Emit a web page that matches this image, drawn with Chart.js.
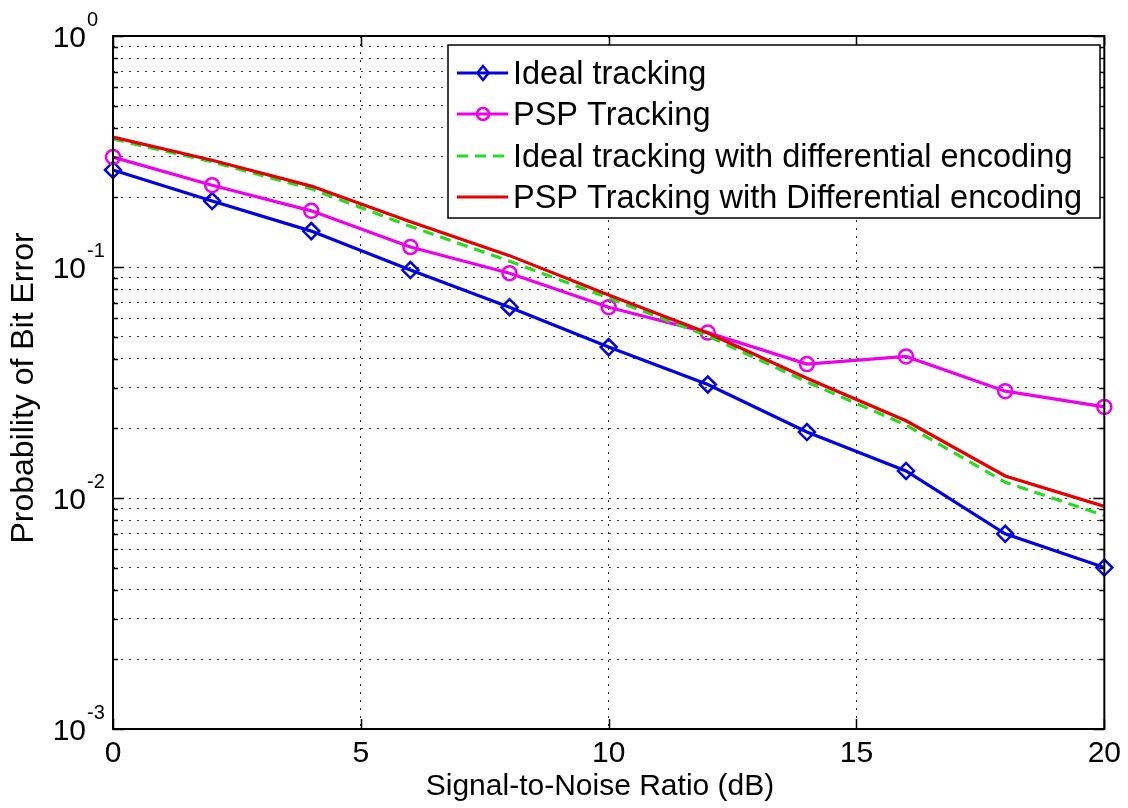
<!DOCTYPE html>
<html>
<head>
<meta charset="utf-8">
<script src="https://cdn.jsdelivr.net/npm/chart.js@4.4.1/dist/chart.umd.min.js"></script>
<style>
  html, body { margin: 0; padding: 0; background: #ffffff; }
  #wrap { width: 1128px; height: 808px; }
</style>
</head>
<body>
<div id="wrap"><canvas id="c" width="1128" height="808"></canvas></div>
<script>
// ---- data ----
const snrDb = [0, 2, 4, 6, 8, 10, 12, 14, 16, 18, 20];
const idealTracking = [0.263, 0.193, 0.143, 0.097, 0.067, 0.045, 0.031, 0.0193, 0.0131, 0.0070, 0.0050];
const pspTracking = [0.299, 0.226, 0.175, 0.122, 0.094, 0.067, 0.052, 0.038, 0.041, 0.029, 0.0248];
const idealTrackingDiff = [0.358, 0.285, 0.218, 0.150, 0.106, 0.0734, 0.0503, 0.0318, 0.0207, 0.0117, 0.0084];
const pspTrackingDiff = [0.365, 0.290, 0.224, 0.157, 0.112, 0.0757, 0.0518, 0.0330, 0.0216, 0.01245, 0.0092];
const seriesNames = [
  'Ideal tracking',
  'PSP Tracking',
  'Ideal tracking with differential encoding',
  'PSP Tracking with Differential encoding'
];
const xTickValues = [0, 5, 10, 15, 20];
const yDecades = [1, 0.1, 0.01, 0.001];
const yDecadeExponents = ['0', '-1', '-2', '-3'];
const yMinorMultipliers = [2, 3, 4, 5, 6, 7, 8, 9];
const xTitle = 'Signal-to-Noise Ratio (dB)';
const yTitle = 'Probability of Bit Error';

const FONT = '"Liberation Sans", Arial, Helvetica, sans-serif';
const colors = ['#0000e6', '#ee00ee', '#22dd22', '#e60000'];

function toPoints(ys) { return snrDb.map((x, i) => ({ x: x, y: ys[i] })); }

// ticks on the log axis: decades plus 2..9 multiples
function buildYTicks() {
  const t = [];
  yDecades.forEach(d => {
    t.push({ value: d, major: true });
    if (d < 1) yMinorMultipliers.forEach(m => t.push({ value: d * m, major: false }));
  });
  return t.sort((a, b) => a.value - b.value);
}

const matlabPlugin = {
  id: 'matlabLook',
  afterDatasetsDraw(chart) {
    const ctx = chart.ctx;
    const a = chart.chartArea;
    const xs = chart.scales.x, ys = chart.scales.y;
    ctx.save();
    // tick marks (inside)
    ctx.strokeStyle = '#000';
    ctx.lineWidth = 1.5;
    ctx.setLineDash([]);
    ctx.beginPath();
    xTickValues.forEach(v => {
      const px = Math.round(xs.getPixelForValue(v)) + 0.5;
      ctx.moveTo(px, a.bottom); ctx.lineTo(px, a.bottom - 10);
      ctx.moveTo(px, a.top); ctx.lineTo(px, a.top + 10);
    });
    ys.ticks.forEach(t => {
      const py = Math.round(ys.getPixelForValue(t.value)) + 0.5;
      const len = t.major ? 11 : 5;
      ctx.moveTo(a.left, py); ctx.lineTo(a.left + len, py);
      ctx.moveTo(a.right, py); ctx.lineTo(a.right - len, py);
    });
    ctx.stroke();
    // box
    ctx.lineWidth = 2;
    ctx.strokeRect(a.left, a.top, a.right - a.left, a.bottom - a.top);

    // y decade labels with superscript exponents
    ctx.fillStyle = '#000';
    yDecades.forEach((d, i) => {
      const py = ys.getPixelForValue(d);
      ctx.font = '30px ' + FONT;
      ctx.textAlign = 'right';
      ctx.textBaseline = 'alphabetic';
      ctx.fillText('10', 86, py + 11);
      ctx.font = '20px ' + FONT;
      ctx.textAlign = 'left';
      ctx.fillText(yDecadeExponents[i], 87, py - 10);
    });

    // axis titles
    ctx.font = '30px ' + FONT;
    ctx.textAlign = 'center';
    ctx.textBaseline = 'alphabetic';
    ctx.fillText(xTitle, 600, 795);
    ctx.save();
    ctx.translate(24, 388);
    ctx.rotate(-Math.PI / 2);
    ctx.font = '32px ' + FONT;
    ctx.textBaseline = 'middle';
    ctx.fillText(yTitle, 0, 0);
    ctx.restore();

    // legend
    const lx = 448, ly = 45, lw = 652, lh = 173;
    ctx.fillStyle = '#fff';
    ctx.fillRect(lx, ly, lw, lh);
    ctx.strokeStyle = '#000';
    ctx.lineWidth = 1.5;
    ctx.strokeRect(lx, ly, lw, lh);
    const rowY = [73, 114, 156, 197];
    chart.data.datasets.forEach((ds, i) => {
      const y = rowY[i];
      ctx.save();
      ctx.strokeStyle = ds.borderColor;
      ctx.lineWidth = ds.borderWidth;
      ctx.setLineDash(ds.borderDash || []);
      ctx.beginPath();
      ctx.moveTo(457, y); ctx.lineTo(508, y);
      ctx.stroke();
      ctx.setLineDash([]);
      if (ds.pointRadius > 0) {
        ctx.lineWidth = ds.pointBorderWidth;
        ctx.beginPath();
        const cx = 483, r = ds.pointRadius - 1;
        if (ds.pointStyle === 'rectRot') {
          ctx.moveTo(cx, y - r); ctx.lineTo(cx + r * 0.8, y); ctx.lineTo(cx, y + r); ctx.lineTo(cx - r * 0.8, y); ctx.closePath();
        } else {
          ctx.arc(cx, y, r, 0, Math.PI * 2);
        }
        ctx.stroke();
      }
      ctx.restore();
      ctx.fillStyle = '#000';
      ctx.font = '32.5px ' + FONT;
      ctx.textAlign = 'left';
      ctx.textBaseline = 'alphabetic';
      ctx.fillText(ds.label, 513, y + 11);
    });
    ctx.restore();
  }
};

const baseDs = { borderWidth: 3.2, tension: 0, clip: false, fill: false, pointBackgroundColor: 'rgba(0,0,0,0)', pointBorderWidth: 2.5, pointHoverRadius: 0 };

new Chart(document.getElementById('c'), {
  type: 'line',
  data: {
    datasets: [
      Object.assign({}, baseDs, { label: seriesNames[0], data: toPoints(idealTracking), borderColor: colors[0], pointBorderColor: colors[0], pointStyle: 'rectRot', pointRadius: 8, order: 4 }),
      Object.assign({}, baseDs, { label: seriesNames[1], data: toPoints(pspTracking), borderColor: colors[1], pointBorderColor: colors[1], pointStyle: 'circle', pointRadius: 7, order: 3 }),
      Object.assign({}, baseDs, { label: seriesNames[2], data: toPoints(idealTrackingDiff), borderColor: colors[2], borderDash: [11, 7], pointRadius: 0, order: 2 }),
      Object.assign({}, baseDs, { label: seriesNames[3], data: toPoints(pspTrackingDiff), borderColor: colors[3], pointRadius: 0, order: 1 })
    ]
  },
  options: {
    responsive: false,
    animation: false,
    devicePixelRatio: 1,
    layout: { padding: { left: 0, top: 36, right: 21, bottom: 0 } },
    plugins: { legend: { display: false }, tooltip: { enabled: false } },
    events: [],
    scales: {
      x: {
        type: 'linear',
        min: 0, max: 20,
        afterFit: s => { s.height = 79; },
        afterBuildTicks: s => { s.ticks = xTickValues.map(v => ({ value: v })); },
        ticks: { font: { family: FONT, size: 30 }, color: '#000', padding: 7, maxRotation: 0, autoSkip: false },
        grid: { color: '#333', lineWidth: 1, drawTicks: false },
        border: { display: false, dash: [2, 6] },
        title: { display: false, text: xTitle }
      },
      y: {
        type: 'logarithmic',
        min: 0.001, max: 1,
        afterFit: s => { s.width = 113; },
        afterBuildTicks: s => { s.ticks = buildYTicks(); },
        ticks: { display: false },
        grid: { color: '#333', lineWidth: 1, drawTicks: false },
        border: { display: false, dash: [2, 6] },
        title: { display: false, text: yTitle }
      }
    }
  },
  plugins: [matlabPlugin]
});
</script>
</body>
</html>
